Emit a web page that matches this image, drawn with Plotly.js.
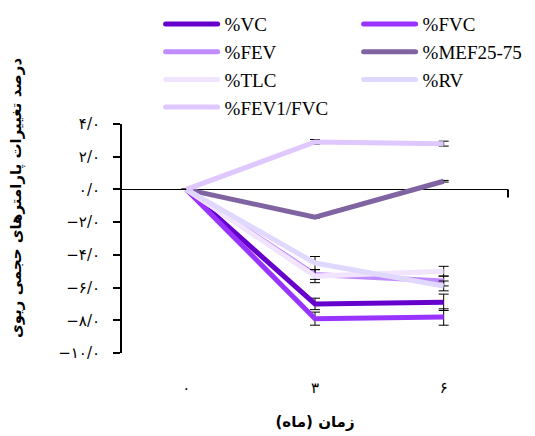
<!DOCTYPE html>
<html>
<head>
<meta charset="utf-8">
<script src="https://cdn.plot.ly/plotly-3.0.1.min.js"></script>
<style>html,body{margin:0;padding:0;background:#fff}#chart{width:535px;height:436px}</style>
</head>
<body>
<div id="chart"></div>
<script>
// Months (category tick labels in Persian digits)
var months = ['۰', '۳', '۶'];
// Series (percent change)
var seriesNames = ['%VC', '%FVC', '%FEV', '%MEF25-75', '%TLC', '%RV', '%FEV1/FVC'];
var VC = [0, -7.0, -6.9];
var FVC = [0, -7.9, -7.8];
var FEV = [0, -5.2, -5.6];
var MEF = [0, -1.7, 0.5];
var TLC = [0, -5.3, -5.0];
var RV = [0, -4.5, -5.9];
var FEV1FVC = [0, 2.9, 2.8];
// Error values
var errVC = [0, 0.35, 0.5];
var errFVC = [0, 0.4, 0.5];
var errFEV = [0, 0.3, 0.3];
var errMEF = [0, 0.05, 0.05];
var errTLC = [0, 0.4, 0.3];
var errRV = [0, 0.4, 0.3];
var errFEV1FVC = [0, 0.15, 0.15];
// Y tick values/labels
var yTickVals = [4, 2, 0, -2, -4, -6, -8, -10];
var yTickText = ['۴/۰', '۲/۰', '۰/۰', '−۲/۰', '−۴/۰', '−۶/۰', '−۸/۰', '−۱۰/۰'];

var colors = ['#6600cc', '#9933ff', '#c08cff', '#8064a2', '#f1e4ff', '#e0d8ff', '#dfc7ff'];
var values = [VC, FVC, FEV, MEF, TLC, RV, FEV1FVC];
var errs = [errVC, errFVC, errFEV, errMEF, errTLC, errRV, errFEV1FVC];
var legendCol = ['legend', 'legend2', 'legend', 'legend2', 'legend', 'legend2', 'legend'];

var traces = values.map(function (v, i) {
  return {
    type: 'scatter', mode: 'lines', x: months, y: v, name: seriesNames[i],
    legend: legendCol[i],
    line: {color: colors[i], width: 5},
    error_y: {type: 'data', array: errs[i], visible: true, color: '#000', thickness: 1, width: 5},
    hoverinfo: 'x+y+name'
  };
});

var legendFont = {family: 'Liberation Serif, Times New Roman, serif', size: 19, color: '#000'};
var layout = {
  width: 535, height: 436,
  margin: {l: 122, r: 27, t: 124, b: 83, autoexpand: false},
  paper_bgcolor: '#fff', plot_bgcolor: '#fff',
  showlegend: true,
  legend: {
    orientation: 'v', x: 0.1, xanchor: 'left', y: 1.519, yanchor: 'top', itemwidth: 54,
    traceorder: 'normal', font: legendFont, bgcolor: 'rgba(0,0,0,0)', tracegroupgap: 0
  },
  legend2: {
    orientation: 'v', x: 0.613, xanchor: 'left', y: 1.519, yanchor: 'top', itemwidth: 54,
    traceorder: 'normal', font: legendFont, bgcolor: 'rgba(0,0,0,0)', tracegroupgap: 0
  },
  xaxis: {
    type: 'category', range: [-0.5, 2.5], showgrid: false, zeroline: false, showline: false,
    ticks: '', ticklabelstandoff: 24,
    tickfont: {family: 'DejaVu Sans, sans-serif', size: 15, color: '#000'},
    title: {text: 'زمان (ماه)', font: {family: 'DejaVu Sans, sans-serif', size: 15, color: '#000', weight: 'bold'}, standoff: 20}
  },
  yaxis: {
    range: [-10, 4], showgrid: false, zeroline: true, zerolinecolor: '#000', zerolinewidth: 1.5,
    showline: true, linecolor: '#000', linewidth: 2, ticks: 'outside', ticklen: 7, tickcolor: '#000', tickwidth: 2,
    tickvals: yTickVals, ticktext: yTickText, ticklabelstandoff: 10,
    tickfont: {family: 'DejaVu Sans, sans-serif', size: 15, color: '#000'}
  },
  annotations: [
    {text: 'درصد تغییرات پارامترهای حجمی ریوی', xref: 'paper', yref: 'paper', x: -0.272, y: 0.677,
     xanchor: 'center', yanchor: 'middle', textangle: -90, showarrow: false,
     font: {family: 'DejaVu Sans, sans-serif', size: 15, color: '#000', weight: 'bold'}}
  ],
  shapes: [
    {type: 'line', xref: 'paper', yref: 'y', x0: 1, x1: 1, y0: 0, y1: -0.5, line: {color: '#000', width: 2}}
  ]
};

Plotly.newPlot('chart', traces, layout, {displayModeBar: false, staticPlot: true}).then(function (gd) {
  // lengthen legend line samples to match the reference swatch length
  gd.querySelectorAll('.legendlines path').forEach(function (p) {
    p.setAttribute('d', 'M5,0h52');
    p.style.strokeLinecap = 'round';
  });
});
</script>
</body>
</html>
